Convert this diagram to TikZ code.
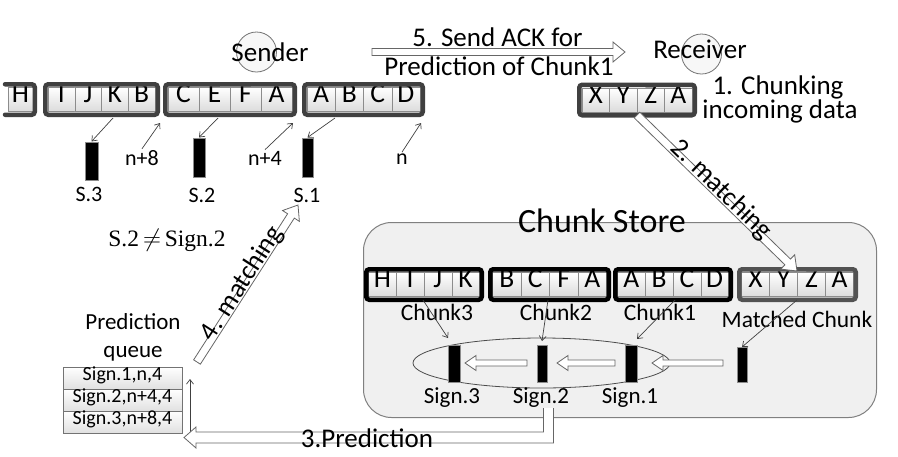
\documentclass[tikz,border=0pt]{standalone}
\usepackage{fontspec}
\setmainfont{Carlito}
\newfontfamily\serifrm{Liberation Serif}
\usetikzlibrary{calc,arrows.meta,shapes.geometric}
\tikzset{
  fs/.style={font=\fontsize{#1}{#1}\selectfont},
  cellA/.style={inner sep=0pt, minimum height=24pt, text height=0.644em, text depth=0pt,
     top color=white, bottom color=black!14, draw=black!45, line width=0.5pt, fs=27.5},
  topbox/.style={draw=black!75, line width=4.5pt, rounded corners=3pt, inner sep=0pt, minimum height=30.5pt},
  storebox/.style={topbox, draw=black},
  matchbox/.style={topbox, draw=black!68},
  sigbar/.style={fill=black, draw=black!45, line width=1pt, inner sep=0pt},
  thinarr/.style={draw=black!75, line width=0.7pt, -{Straight Barb[length=4.5pt,width=7pt]}},
  hollow/.style n args={3}{draw=black!60, fill=white, line width=0.8pt, line join=miter,
     to path={-- ($(\tikztostart)!#1!90:(\tikztotarget)$)
              -- ($(\tikztotarget)!#3!(\tikztostart)!#1!90:(\tikztotarget)$)
              -- ($(\tikztotarget)!#3!(\tikztostart)!#2!90:(\tikztotarget)$)
              -- (\tikztotarget)
              -- ($(\tikztotarget)!#3!(\tikztostart)!#2!-90:(\tikztotarget)$)
              -- ($(\tikztotarget)!#3!(\tikztostart)!#1!-90:(\tikztotarget)$)
              -- ($(\tikztostart)!#1!-90:(\tikztotarget)$) -- cycle}},
  lbl/.style={anchor=base, inner sep=0pt, fs=27},
  slopelbl/.style={anchor=center, inner sep=0pt, fs=27, text height=0.72em, text depth=0.2em},
  qrow/.style={draw=black!55, line width=0.7pt, top color=white, bottom color=black!12,
     minimum width=119pt, minimum height=22pt, inner sep=0pt, text height=0.65em, text depth=0.15em, fs=20},
  ringA/.style={circle, draw=black!55, fill=black!3, line width=0.8pt, minimum size=40pt, inner sep=0pt}
}
\begin{document}
\begin{tikzpicture}[x=1pt,y=-1pt]
\useasboundingbox (0,0) rectangle (898,456);

% ---------- chunk store ----------
\node[draw=black!50, fill=black!6, line width=1pt, rounded corners=28pt,
      minimum width=513pt, minimum height=195pt, inner sep=0pt] (store) at (620,320) {};
\node[lbl, fs=34] (storettl) at (602,232) {Chunk Store};
\node[ellipse, draw=black!70, line width=0.8pt, minimum width=257pt, minimum height=50pt, inner sep=0pt] (ell) at (541.5,363) {};

% ---------- circles ----------
\node[ringA] (scirc) at (256.5,52) {};
\node[ringA] (rcirc) at (701.5,54) {};

% ---------- sender stream ----------
\node[cellA, minimum width=25pt] (h0) at (20.5,99.5) {H};
\draw[draw=black!75, line width=4.5pt, rounded corners=3pt, line cap=round]
  (5,84.25) -- (34.75,84.25) -- (34.75,114.75) -- (5,114.75);
\foreach \t [count=\i] in {I,J,K,B}
  \node[cellA, minimum width=26.75pt] (ta\i) at ({48+26.75*(\i-0.5)},99.5) {\t};
\node[topbox, minimum width=112.5pt] (boxa) at (101.5,99.5) {};
\foreach \t [count=\i] in {C,E,F,A}
  \node[cellA, minimum width=31pt] (tb\i) at ({168+31*(\i-0.5)},99.5) {\t};
\node[topbox, minimum width=129.5pt] (boxb) at (230,99.5) {};
\foreach \t [count=\i] in {A,B,C,D}
  \node[cellA, minimum width=28.25pt] (tc\i) at ({307+28.25*(\i-0.5)},99.5) {\t};
\node[topbox, minimum width=118.5pt] (boxc) at (363.5,99.5) {};

% ---------- receiver stream ----------
\foreach \t [count=\i] in {X,Y,Z,A}
  \node[cellA, minimum width=27.5pt] (td\i) at ({582+27.5*(\i-0.5)},100) {\t};
\node[topbox, minimum width=115.5pt] (boxd) at (637,100) {};

% ---------- store chunks ----------
\foreach \t [count=\i] in {H,I,J,K}
  \node[cellA, minimum width=27.75pt] (sa\i) at ({368.5+27.75*(\i-0.5)},284.5) {\t};
\node[storebox, minimum width=115.5pt] (sboxa) at (424,284.5) {};
\foreach \t [count=\i] in {B,C,F,A}
  \node[cellA, minimum width=28.5pt] (sb\i) at ({492.5+28.5*(\i-0.5)},284.5) {\t};
\node[storebox, minimum width=118.5pt] (sboxb) at (549.5,284.5) {};
\foreach \t [count=\i] in {A,B,C,D}
  \node[cellA, minimum width=27.75pt] (sc\i) at ({617.5+27.75*(\i-0.5)},284.5) {\t};
\node[storebox, minimum width=115.5pt] (sboxc) at (673,284.5) {};
\foreach \t [count=\i] in {X,Y,Z,A}
  \node[cellA, minimum width=28pt] (sd\i) at ({741.5+28*(\i-0.5)},284.5) {\t};
\node[matchbox, minimum width=116.5pt] (sboxd) at (797.5,284.5) {};

% ---------- signature bars ----------
\node[sigbar, minimum width=13pt, minimum height=38pt] (s3) at (91.5,161) {};
\node[sigbar, minimum width=12pt, minimum height=39pt] (s2) at (199,157.5) {};
\node[sigbar, minimum width=11pt, minimum height=39pt] (s1) at (307.5,157.5) {};
\node[sigbar, minimum width=12pt, minimum height=37pt] (g3) at (454,363.5) {};
\node[sigbar, minimum width=10pt, minimum height=37pt] (g2) at (542,363.5) {};
\node[sigbar, minimum width=12pt, minimum height=37pt] (g1) at (631,363.5) {};
\node[sigbar, minimum width=10pt, minimum height=35pt] (gm) at (742,364.5) {};

% ---------- labels ----------
\node[lbl] (sender) at (270,61.5) {Sender};
\node[lbl] (receiver) at (700,58) {Receiver};
\node[lbl] (ack1) at (497.5,46) {5. Send ACK for};
\node[lbl] (ack2) at (499,75) {Prediction of Chunk1};
\node[lbl] (chk1) at (778,94) {1. Chunking};
\node[lbl] (chk2) at (780,118) {incoming data};
\node[lbl, fs=22] (l-s3) at (89,201) {S.3};
\node[lbl, fs=22] (l-s2) at (202,202.5) {S.2};
\node[lbl, fs=22] (l-s1) at (307,202.5) {S.1};
\node[lbl, fs=22] (l-n8) at (142,165) {n+8};
\node[lbl, fs=22] (l-n4) at (265,165) {n+4};
\node[lbl, fs=22] (l-n) at (402,164) {n};
\node[anchor=base, inner sep=0pt, fs=23.5] (neq) at (167,246) {\serifrm S.2\,$\neq$\,Sign.2};
\node[lbl, fs=23.5] (l-c3) at (437,320) {Chunk3};
\node[lbl, fs=23.5] (l-c2) at (556,320) {Chunk2};
\node[lbl, fs=23.5] (l-c1) at (660,320) {Chunk1};
\node[lbl, fs=23.5] (l-cm) at (797,327) {Matched Chunk};
\node[lbl, fs=23] (l-g3) at (452,403) {Sign.3};
\node[lbl, fs=23] (l-g2) at (541,403) {Sign.2};
\node[lbl, fs=23] (l-g1) at (630,403) {Sign.1};
\node[lbl, fs=23] (pq1) at (133,329) {Prediction};
\node[lbl, fs=23] (pq2) at (133,357) {queue};

% ---------- prediction queue ----------
\node[qrow] (q1) at (122.5,378) {Sign.1,n,4};
\node[qrow] (q2) at (122.5,400) {Sign.2,n+4,4};
\node[qrow] (q3) at (122.5,422) {Sign.3,n+8,4};

% ---------- thin arrows ----------
\coordinate (k-a) at (113,118);
\coordinate (e-a) at (218,118);
\coordinate (b-a) at (335,118);
\coordinate (n8-t) at (160,123);
\coordinate (n4-t) at (293,123);
\coordinate (n-t) at (421,123);
\draw[thinarr] (k-a) -- (s3.north);
\draw[thinarr] (e-a) -- (s2.north);
\draw[thinarr] (b-a) -- (s1.north);
\draw[thinarr] ([yshift=1pt]l-n8.north) -- (n8-t);
\draw[thinarr] ([yshift=1pt]l-n4.north) -- (n4-t);
\draw[thinarr] ([yshift=1pt]l-n.north) -- (n-t);

\coordinate (c3-a) at (423,300); \coordinate (c3-b) at (448,338);
\coordinate (c2-a) at (548,300); \coordinate (c2-b) at (542,341);
\coordinate (c1-a) at (675,300); \coordinate (c1-b) at (637,339);
\coordinate (cm-a) at (797,300); \coordinate (cm-b) at (742,347);
\draw[thinarr] (c3-a) -- (c3-b);
\draw[thinarr] (c2-a) -- (c2-b);
\draw[thinarr] (c1-a) -- (c1-b);
\draw[thinarr] (cm-a) -- (cm-b);

\coordinate (qa-s) at (190,433); \coordinate (qa-e) at (190,379);
\draw[thinarr] (qa-s) -- (qa-e);

% ---------- hollow arrows ----------
\coordinate (ack-s) at (372,52); \coordinate (ack-e) at (625,52);
\draw[hollow={3.5pt}{10pt}{12pt}] (ack-s) to (ack-e);

\coordinate (m2s) at (637,115); \coordinate (m2e) at (797,271);
\draw[hollow={4pt}{10pt}{13pt}] (m2s) to (m2e);

\coordinate (m4s) at (197,362); \coordinate (m4e) at (298,205);
\draw[hollow={4pt}{10pt}{13pt}] (m4s) to (m4e);

\coordinate (h1s) at (527,363); \coordinate (h1e) at (465,363);
\coordinate (h2s) at (615,363); \coordinate (h2e) at (557,363);
\coordinate (h3s) at (723,363); \coordinate (h3e) at (652,363);
\draw[hollow={3pt}{7.5pt}{11pt}] (h1s) to (h1e);
\draw[hollow={3pt}{7.5pt}{11pt}] (h2s) to (h2e);
\draw[hollow={3pt}{7.5pt}{11pt}] (h3s) to (h3e);

\coordinate (p3top) at (548.5,408);
\coordinate (p3tip) at (184,437.5);
\filldraw[draw=black!60, fill=white, line width=0.8pt, line join=miter]
  ([xshift=-5pt]p3top) |- ([xshift=12pt,yshift=5.5pt]p3tip)
  -- ([xshift=12pt,yshift=10.5pt]p3tip) -- (p3tip)
  -- ([xshift=12pt,yshift=-10.5pt]p3tip) -- ([xshift=12pt,yshift=-5.5pt]p3tip)
  -| ([xshift=5pt]p3top);

% ---------- arrow labels ----------
\node[lbl] (p3txt) at (367,447) {3.Prediction};
\node[slopelbl, rotate=57.2] (t4) at (246,286) {4. matching};
\node[slopelbl, rotate=-44.2] (t2) at (718,193) {2. matching};
\end{tikzpicture}
\end{document}
